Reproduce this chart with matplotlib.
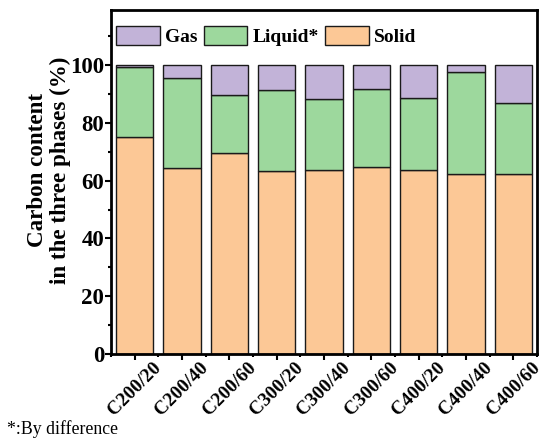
import matplotlib
matplotlib.use("Agg")
import matplotlib.pyplot as plt
from matplotlib.ticker import FixedLocator
import numpy as np

samples = ["C200/20", "C200/40", "C200/60", "C300/20", "C300/40",
           "C300/60", "C400/20", "C400/40", "C400/60"]
solid = [75.2, 64.5, 69.5, 63.4, 63.5, 64.6, 63.6, 62.2, 62.3]
liquid_top = [99.3, 95.4, 89.7, 91.3, 88.3, 91.7, 88.5, 97.7, 86.7]
total = [100, 100, 100, 100, 100, 100, 100, 100, 100]

liquid = [lt - s for lt, s in zip(liquid_top, solid)]
gas = [t - lt for t, lt in zip(total, liquid_top)]

plt.rcParams["font.family"] = ["Liberation Serif", "DejaVu Serif"]

fig = plt.figure(figsize=(5.42, 4.4), dpi=100)
ax = fig.add_axes([0.2048, 0.1955, 0.786, 0.7815])

x = np.arange(len(samples))
w = 0.79
c_solid, c_liq, c_gas = "#FCC896", "#9DD89D", "#C2B3D8"
edge = "#1a1a1a"

b_solid = ax.bar(x, solid, w, color=c_solid, edgecolor=edge, linewidth=1.0, label="Solid")
b_liq = ax.bar(x, liquid, w, bottom=solid, color=c_liq, edgecolor=edge, linewidth=1.0, label="Liquid*")
b_gas = ax.bar(x, gas, w, bottom=liquid_top, color=c_gas, edgecolor=edge, linewidth=1.0, label="Gas")

ax.set_xlim(-0.5, len(samples) - 0.5)
ax.set_ylim(0, 119)

ax.yaxis.set_major_locator(FixedLocator([0, 20, 40, 60, 80, 100]))
ax.yaxis.set_minor_locator(FixedLocator([10, 30, 50, 70, 90, 110]))
ax.set_xticks(x)
ax.set_xticklabels(samples)
ax.xaxis.set_minor_locator(FixedLocator(np.arange(-0.5, len(samples), 1.0)))

for lab in ax.get_xticklabels():
    lab.set_rotation(45)
    lab.set_ha("center")
    lab.set_va("top")
    lab.set_fontweight("bold")
    lab.set_fontsize(13.9)
for lab in ax.get_yticklabels():
    lab.set_fontweight("bold")
    lab.set_fontsize(16.5)

ax.tick_params(axis="both", which="major", direction="out", length=4.5, width=1.5)
ax.tick_params(axis="both", which="minor", direction="out", length=2.3, width=1.5)
ax.tick_params(axis="y", which="major", pad=0.5)
ax.tick_params(axis="x", which="major", pad=-1)

for sp in ax.spines.values():
    sp.set_linewidth(2)

ax.set_ylabel("Carbon content\nin the three phases (%)", fontsize=16.6,
              fontweight="bold", linespacing=1.1)
ax.yaxis.set_label_coords(-0.095, 0.535)

ax.legend(handles=[b_gas, b_liq, b_solid], loc="upper left", ncol=3,
          bbox_to_anchor=(0.012, 0.955), frameon=False,
          prop={"weight": "bold", "size": 14},
          handlelength=2.25, handleheight=1.12, handletextpad=0.28,
          columnspacing=0.3, borderaxespad=0, borderpad=0)

fig.text(0.012, 0.004, "*:By difference", fontsize=12.8, ha="left", va="bottom")

fig.savefig("out.png", dpi=100)
